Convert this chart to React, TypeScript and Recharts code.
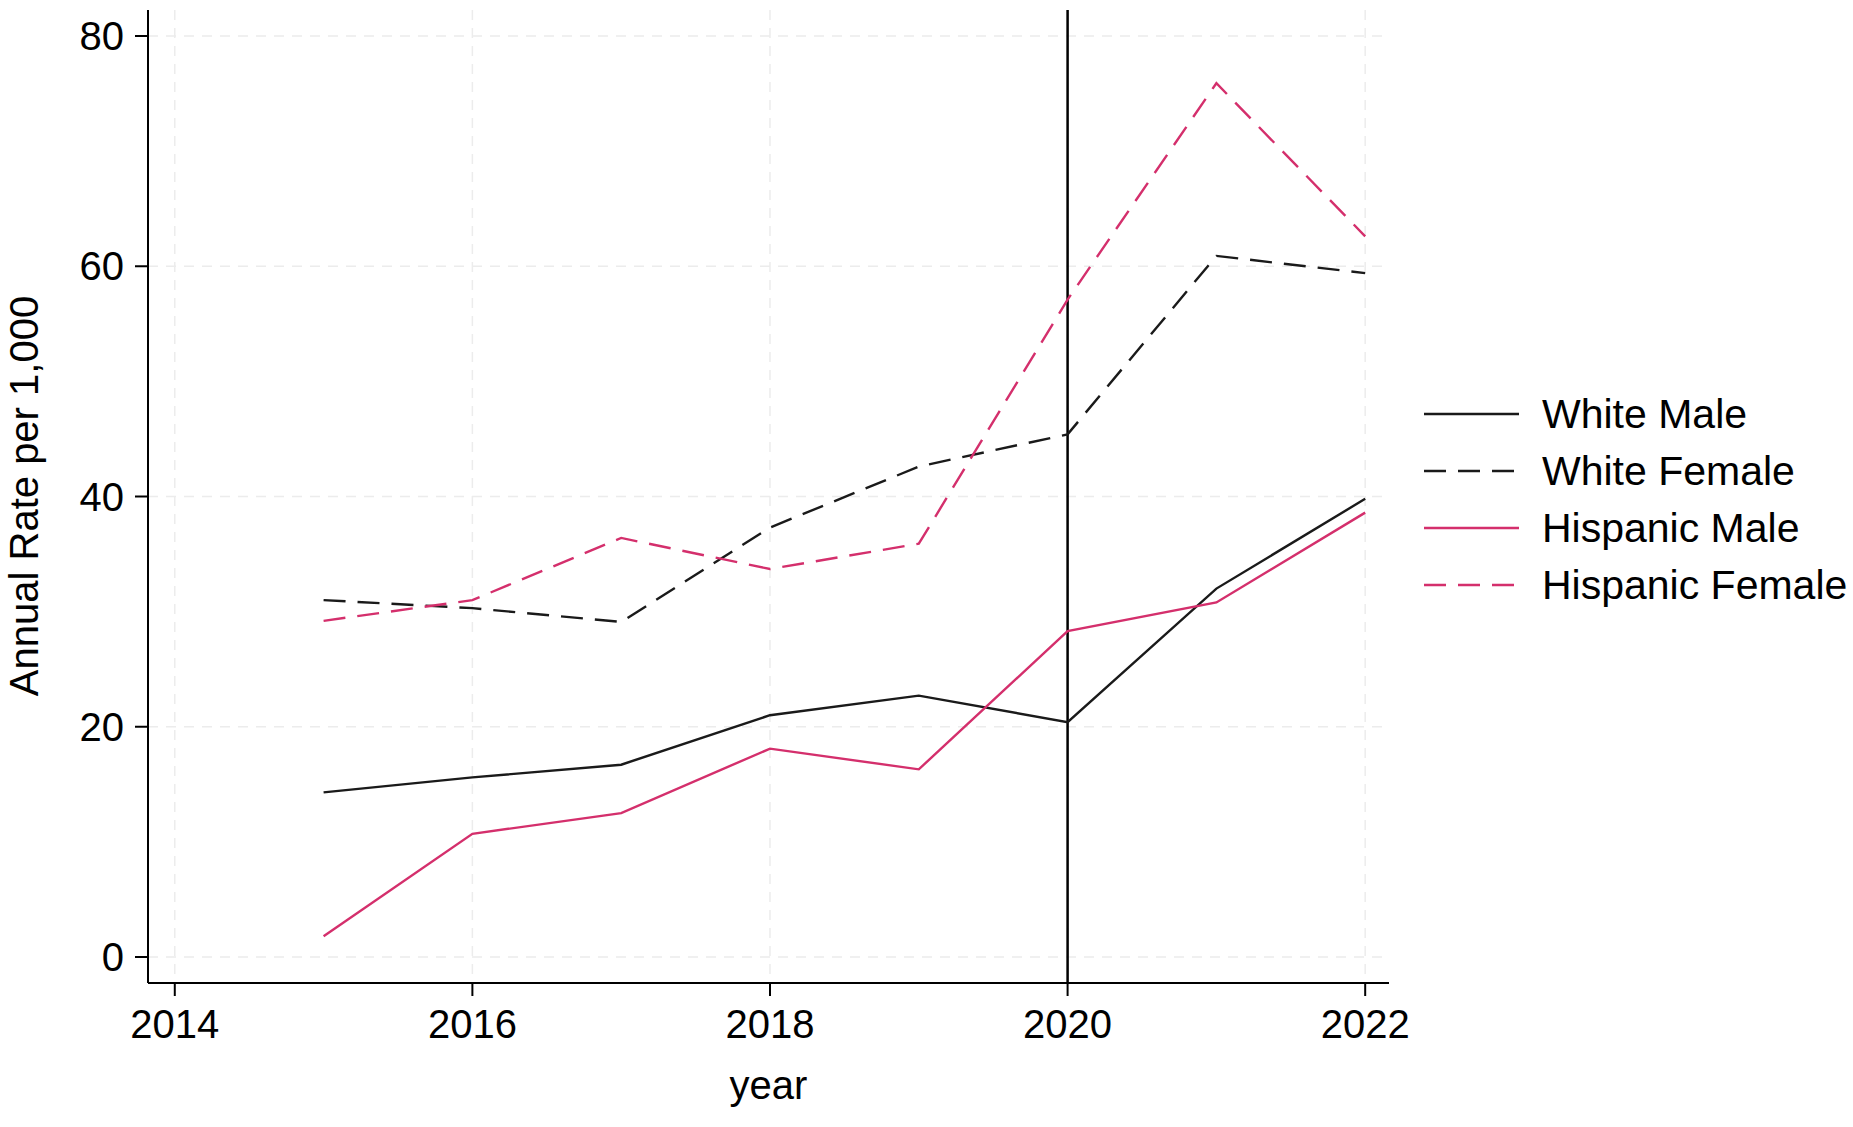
import React from "react";
import { LineChart, Line, XAxis, YAxis, CartesianGrid, ReferenceLine } from "recharts";

const years = [2015, 2016, 2017, 2018, 2019, 2020, 2021, 2022];
const whiteMale = [14.3, 15.6, 16.7, 21.0, 22.7, 20.4, 32.0, 39.8];
const whiteFemale = [31.0, 30.3, 29.1, 37.3, 42.6, 45.4, 60.9, 59.4];
const hispanicMale = [1.8, 10.7, 12.5, 18.1, 16.3, 28.3, 30.8, 38.6];
const hispanicFemale = [29.2, 31.0, 36.4, 33.7, 35.9, 57.1, 75.9, 62.6];

const xTicks = [2014, 2016, 2018, 2020, 2022];
const yTicks = [0, 20, 40, 60, 80];
const seriesNames = ["White Male", "White Female", "Hispanic Male", "Hispanic Female"];

const BLACK = "#1a1a1a";
const PINK = "#d42f6c";
const DASH = "22 12";
const FONT = "'Liberation Sans', Arial, Helvetica, sans-serif";

const data = years.map((y, i) => ({
  year: y,
  wm: whiteMale[i],
  wf: whiteFemale[i],
  hm: hispanicMale[i],
  hf: hispanicFemale[i],
}));

const seriesStyle = [
  { key: "wm", color: BLACK, dash: undefined },
  { key: "wf", color: BLACK, dash: DASH },
  { key: "hm", color: PINK, dash: undefined },
  { key: "hf", color: PINK, dash: DASH },
];

const tickStyle = { fontSize: 40, fill: "#000", fontFamily: FONT };

export default function App() {
  return (
    <div style={{ position: "absolute", left: 0, top: 0, width: 1853, height: 1127, background: "#fff", fontFamily: FONT }}>
      <LineChart
        width={1853}
        height={1127}
        data={data}
        margin={{ top: 10, right: 464, bottom: 64, left: 68 }}
      >
        <CartesianGrid
          stroke="#ececec"
          strokeDasharray="10 8"
          strokeWidth={1.5}
          horizontalValues={yTicks}
          verticalValues={xTicks}
        />
        <XAxis
          dataKey="year"
          type="number"
          domain={[2013.82, 2022.16]}
          ticks={xTicks}
          allowDataOverflow
          height={80}
          axisLine={{ stroke: "#000", strokeWidth: 2 }}
          tickLine={{ stroke: "#000", strokeWidth: 2 }}
          tickSize={13}
          tickMargin={14}
          tick={tickStyle}
          label={{ value: "year", position: "insideBottom", offset: -36, style: { fontSize: 40, fill: "#000", fontFamily: FONT } }}
        />
        <YAxis
          type="number"
          domain={[-2.26, 82.26]}
          ticks={yTicks}
          allowDataOverflow
          width={80}
          axisLine={{ stroke: "#000", strokeWidth: 2 }}
          tickLine={{ stroke: "#000", strokeWidth: 2 }}
          tickSize={13}
          tickMargin={11}
          tick={tickStyle}
        />
        <ReferenceLine x={2020} stroke="#000" strokeWidth={2.5} />
        {seriesStyle.map((s, i) => (
          <Line
            key={s.key}
            dataKey={s.key}
            name={seriesNames[i]}
            stroke={s.color}
            strokeWidth={2.4}
            strokeDasharray={s.dash}
            dot={false}
            activeDot={false}
            isAnimationActive={false}
          />
        ))}
      </LineChart>
      <svg
        width={60}
        height={500}
        style={{ position: "absolute", left: 0, top: 246 }}
      >
        <text
          x={38}
          y={250}
          transform="rotate(-90 38 250)"
          textAnchor="middle"
          fontSize={40}
          fontFamily={FONT}
          fill="#000"
        >
          Annual Rate per 1,000
        </text>
      </svg>
      <svg width={440} height={240} style={{ position: "absolute", left: 1413, top: 384 }}>
        {seriesNames.map((n, i) => {
          const cy = 30 + i * 57;
          return (
            <g key={n}>
              <line
                x1={11}
                x2={106}
                y1={cy}
                y2={cy}
                stroke={seriesStyle[i].color}
                strokeWidth={2.4}
                strokeDasharray={seriesStyle[i].dash}
              />
              <text x={129} y={cy} dy="0.35em" fontSize={41} fontFamily={FONT} fill="#000">
                {n}
              </text>
            </g>
          );
        })}
      </svg>
    </div>
  );
}
